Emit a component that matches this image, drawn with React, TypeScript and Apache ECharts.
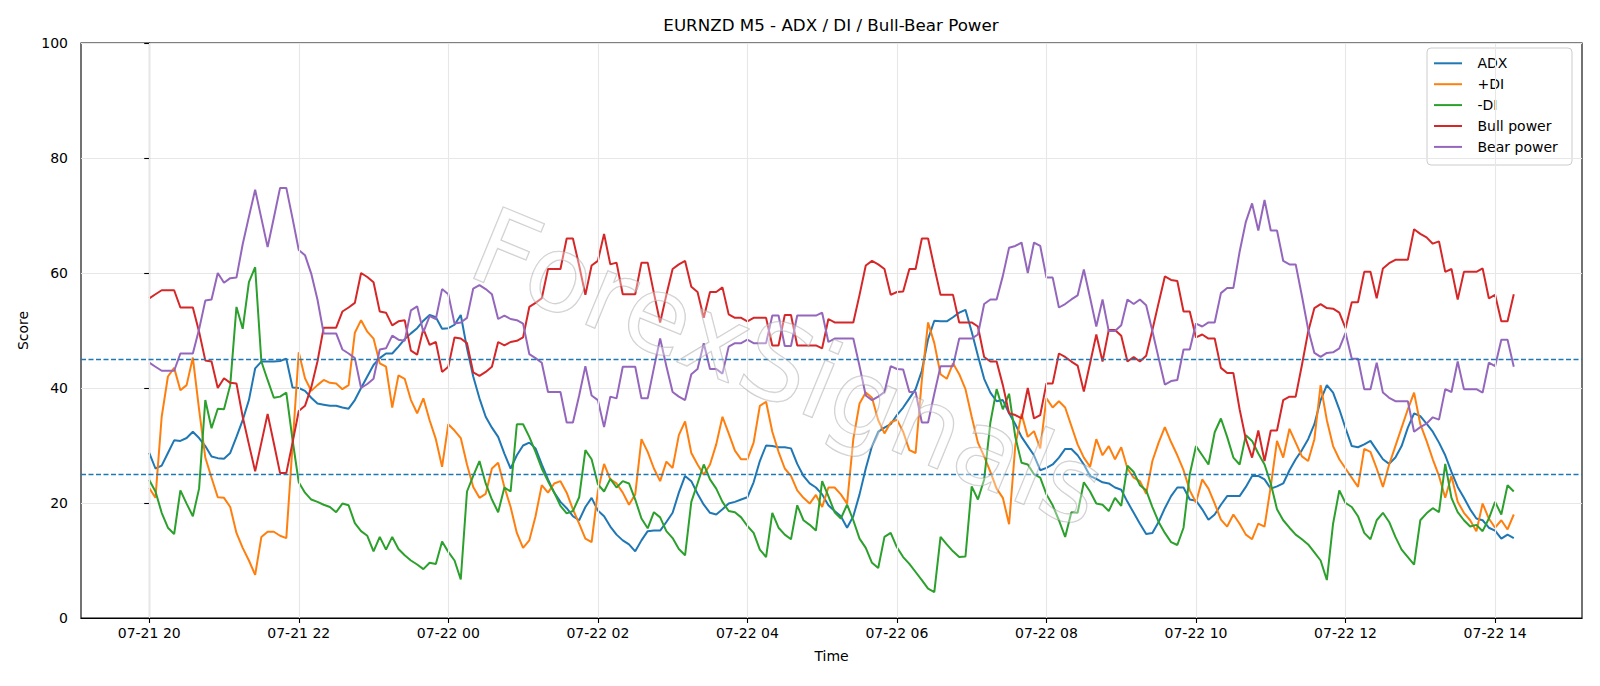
import React, { useEffect, useRef } from "react";
import * as echarts from "echarts";

const TITLE = "EURNZD M5 - ADX / DI / Bull-Bear Power";
const X_NAME = "Time";
const Y_NAME = "Score";
const STEP_MINUTES = 5;
const TICK_MINUTES = [0, 120, 240, 360, 480, 600, 720, 840, 960, 1080];
const TICK_LABELS = ["07-21 20", "07-21 22", "07-22 00", "07-22 02", "07-22 04", "07-22 06", "07-22 08", "07-22 10", "07-22 12", "07-22 14"];
const THRESHOLDS = [45, 25];
const SERIES_NAMES = ["ADX", "+DI", "-DI", "Bull power", "Bear power"];
const COLORS = ["#1f77b4", "#ff7f0e", "#2ca02c", "#d62728", "#9467bd"];
const WATERMARK = "ForexSignals";

const ADX = [
  28.7, 26.0, 26.5, 28.7, 30.9, 30.8, 31.3, 32.4, 31.3, 29.9, 28.1, 27.8, 27.7, 28.7, 31.5, 34.4, 37.9, 43.4, 44.6, 44.6, 44.6, 44.7, 45.1, 40.1, 40.0,
  39.5, 38.3, 37.3, 37.1, 36.9, 36.9, 36.6, 36.4, 37.9, 40.0, 42.0, 44.0, 45.2, 46.0, 46.0, 47.2, 48.5, 49.5, 50.4, 51.7, 52.7, 52.3, 50.3, 50.4,
  51.0, 52.7, 46.9, 42.0, 38.2, 35.0, 33.1, 31.5, 28.6, 26.0, 28.3, 30.0, 30.5, 29.5, 26.7, 24.1, 21.8, 20.2, 19.1, 17.7, 17.0, 19.3, 20.9, 18.7,
  17.7, 15.9, 14.5, 13.5, 12.8, 11.6, 13.5, 15.1, 15.2, 15.2, 16.7, 18.3, 21.8, 24.7, 23.8, 21.6, 19.7, 18.3, 18.0, 18.9, 19.9, 20.2, 20.6, 21.0,
  23.6, 27.3, 30.0, 29.9, 29.7, 29.7, 29.5, 26.8, 24.7, 23.4, 22.7, 21.5, 19.6, 18.6, 17.7, 15.7, 17.7, 21.5, 26.0, 29.9, 32.4, 33.1, 33.7, 35.3,
  36.6, 38.2, 39.8, 43.0, 48.5, 51.7, 51.6, 51.6, 52.3, 53.1, 53.6, 49.8, 45.6, 41.6, 39.2, 37.7, 37.9, 35.6, 33.7, 31.5, 29.9, 28.3, 25.7, 26.1,
  26.7, 27.9, 29.4, 29.4, 28.3, 26.7, 24.7, 24.2, 23.6, 23.4, 22.7, 22.3, 20.2, 18.3, 16.4, 14.6, 14.8, 16.7, 19.1, 21.2, 22.7, 22.7, 20.6, 20.4,
  18.9, 17.1, 18.0, 19.7, 21.2, 21.2, 21.2, 22.8, 24.7, 24.7, 24.1, 22.5, 22.9, 23.4, 25.7, 27.6, 29.2, 31.1, 33.7, 37.9, 40.5, 39.2, 36.3, 33.0,
  29.9, 29.7, 30.2, 30.8, 29.2, 27.6, 26.8, 27.9, 29.9, 33.1, 35.6, 35.1, 33.8, 32.4, 30.5, 28.3, 25.4, 22.8, 20.9, 18.9, 17.3, 17.0, 15.7, 15.2, 13.8, 14.5, 13.9,
];

const PLUS_DI = [
  22.6, 20.9, 35.0, 42.0, 43.5, 39.6, 40.5, 45.3, 36.3, 27.9, 24.4, 21.0, 20.9, 19.3, 14.8, 12.2, 10.0, 7.5, 14.1, 15.0, 15.0, 14.3, 13.9, 30.0, 46.2,
  41.7, 39.5, 40.5, 41.4, 40.9, 40.8, 39.8, 40.5, 49.6, 51.8, 49.8, 48.6, 44.3, 43.7, 36.6, 42.2, 41.6, 37.9, 35.6, 38.2, 34.4, 31.1, 26.3, 33.7,
  32.6, 31.3, 26.7, 22.8, 20.9, 21.6, 26.0, 27.0, 22.8, 19.3, 14.8, 12.2, 13.5, 17.7, 23.1, 21.8, 23.4, 23.8, 21.8, 18.9, 16.4, 13.8, 13.2, 22.0,
  26.8, 24.1, 23.4, 21.8, 19.7, 21.5, 31.1, 28.9, 26.0, 23.8, 27.2, 26.1, 31.8, 34.2, 28.7, 26.7, 24.9, 26.7, 30.2, 35.0, 32.1, 29.1, 27.6, 27.6,
  30.5, 36.9, 37.6, 32.4, 28.9, 26.0, 24.7, 22.2, 20.9, 19.9, 21.4, 19.3, 22.7, 22.7, 21.5, 19.9, 31.1, 37.3, 39.2, 38.3, 34.4, 32.1, 34.0, 34.5,
  32.4, 29.2, 28.7, 41.4, 51.4, 47.8, 42.4, 41.6, 44.3, 42.4, 39.8, 35.0, 30.5, 28.1, 25.4, 22.5, 20.9, 16.3, 30.0, 35.5, 31.5, 32.5, 29.5, 38.2,
  36.6, 37.7, 36.6, 33.4, 30.2, 27.9, 26.3, 31.1, 28.3, 29.9, 27.6, 29.7, 26.0, 24.4, 23.8, 21.6, 27.3, 30.5, 33.2, 30.6, 28.3, 25.7, 22.2, 20.1,
  24.1, 22.5, 19.9, 17.1, 15.9, 18.0, 16.4, 14.5, 13.7, 16.4, 15.9, 22.9, 30.8, 27.9, 32.9, 30.5, 28.1, 27.3, 31.1, 40.5, 34.4, 29.9, 27.6, 26.0,
  24.4, 22.8, 29.4, 28.9, 26.0, 22.8, 26.7, 29.9, 33.1, 36.3, 39.2, 33.7, 30.8, 27.6, 24.7, 20.9, 24.7, 20.2, 18.3, 17.0, 15.1, 19.9, 17.3, 15.7, 17.0, 15.4, 18.0,
];

const MINUS_DI = [
  24.0, 22.0, 18.3, 15.7, 14.6, 22.2, 19.9, 17.7, 22.5, 37.9, 33.0, 36.4, 36.3, 40.5, 54.1, 50.3, 58.4, 61.0, 44.6, 41.4, 38.3, 38.5, 39.2, 31.0, 23.6,
  21.8, 20.6, 20.2, 19.7, 19.3, 18.4, 19.9, 19.6, 16.5, 15.1, 14.3, 11.6, 14.1, 11.9, 14.1, 12.0, 10.9, 10.0, 9.3, 8.5, 9.6, 9.4, 13.3, 11.5,
  10.0, 6.7, 22.0, 24.7, 27.3, 23.4, 20.6, 18.4, 22.7, 22.0, 33.7, 33.7, 31.5, 28.9, 26.0, 23.8, 21.8, 19.5, 18.2, 18.6, 21.0, 29.2, 27.6, 23.3,
  22.0, 24.2, 22.7, 23.8, 23.4, 20.6, 17.3, 15.6, 18.4, 17.5, 15.1, 13.9, 12.0, 10.9, 20.2, 23.4, 26.7, 24.1, 22.5, 20.2, 18.6, 18.4, 17.5, 16.0,
  14.8, 11.9, 10.6, 18.3, 15.7, 14.5, 13.7, 19.6, 17.0, 16.2, 15.2, 23.8, 21.2, 18.4, 17.3, 19.7, 17.0, 13.8, 12.2, 9.6, 8.7, 14.1, 14.8, 12.3,
  10.6, 9.4, 8.0, 6.6, 5.1, 4.5, 14.1, 12.8, 11.6, 10.6, 10.7, 22.9, 20.6, 24.1, 34.0, 39.8, 36.3, 39.0, 31.5, 27.0, 26.7, 25.0, 24.4, 21.5,
  19.6, 17.0, 14.1, 18.4, 18.3, 23.6, 22.0, 19.9, 19.7, 18.6, 20.9, 19.5, 26.5, 25.4, 23.1, 22.2, 19.3, 16.7, 14.8, 13.2, 12.7, 15.7, 25.0, 29.9,
  28.3, 26.7, 32.3, 34.7, 31.5, 27.9, 26.7, 31.8, 30.8, 28.6, 26.7, 23.4, 18.9, 17.0, 15.7, 14.5, 13.7, 12.8, 11.4, 10.0, 6.6, 16.4, 22.2, 20.0,
  19.3, 17.7, 14.8, 13.7, 17.0, 18.3, 16.7, 14.1, 11.9, 10.6, 9.3, 17.0, 18.2, 19.1, 18.4, 26.8, 20.9, 18.4, 17.0, 15.9, 16.2, 15.1, 17.3, 20.2, 18.0, 23.1, 22.0,
];

const BULL = [
  55.6, 56.3, 57.0, 57.0, 57.0, 54.0, 54.0, 54.0, 49.8, 44.8, 44.6, 40.0, 41.7, 40.9, 40.8, 35.0, 30.2, 25.5, 30.5, 35.5, 30.4, 25.2, 25.2, 30.5, 36.0,
  36.9, 40.1, 44.6, 50.5, 50.5, 50.5, 53.3, 54.0, 54.8, 60.0, 59.3, 58.4, 53.3, 53.1, 50.9, 51.6, 51.8, 46.5, 45.8, 50.3, 47.5, 48.0, 42.8, 43.7,
  48.8, 48.6, 47.8, 42.7, 42.1, 42.8, 43.7, 48.0, 47.4, 48.0, 48.2, 48.8, 54.1, 54.8, 55.6, 60.7, 60.7, 60.7, 66.0, 66.0, 61.3, 56.2, 61.3, 62.1,
  66.8, 61.5, 61.8, 56.3, 56.3, 56.3, 61.8, 61.8, 56.5, 51.4, 56.2, 60.7, 61.5, 62.1, 57.6, 56.7, 52.2, 56.7, 56.7, 57.5, 52.8, 52.2, 52.2, 51.6,
  52.2, 52.2, 52.2, 47.4, 47.4, 52.7, 52.7, 47.4, 47.4, 47.4, 47.4, 46.9, 52.0, 51.4, 51.4, 51.4, 51.4, 56.2, 61.3, 62.1, 61.5, 60.7, 56.2, 56.7,
  56.8, 60.7, 60.7, 66.0, 66.0, 61.0, 56.2, 56.2, 56.2, 51.4, 51.4, 51.4, 50.7, 45.4, 44.6, 44.6, 40.5, 35.6, 35.3, 34.7, 40.0, 34.7, 35.3, 40.8,
  40.8, 46.0, 45.4, 44.6, 43.9, 39.4, 44.3, 49.3, 44.6, 50.1, 50.1, 49.1, 44.6, 45.4, 44.6, 45.6, 50.1, 54.8, 59.4, 58.8, 58.6, 53.3, 53.3, 48.8,
  49.3, 48.6, 48.6, 43.5, 42.6, 42.6, 36.3, 31.1, 27.9, 32.6, 27.3, 32.6, 32.6, 37.9, 38.5, 38.5, 44.0, 49.8, 53.9, 54.6, 53.9, 53.8, 53.1, 50.4,
  54.9, 54.9, 60.2, 60.2, 55.6, 60.8, 61.7, 62.3, 62.3, 62.3, 67.6, 66.8, 66.2, 65.1, 65.5, 60.2, 60.7, 55.4, 60.2, 60.2, 60.2, 60.8, 55.6, 56.2, 51.6, 51.6, 56.3,
];

const BEAR = [
  44.4, 43.7, 43.0, 43.0, 43.0, 46.0, 46.0, 46.0, 50.2, 55.2, 55.4, 60.0, 58.3, 59.1, 59.2, 65.0, 69.8, 74.5, 69.5, 64.5, 69.6, 74.8, 74.8, 69.5, 64.0,
  63.1, 59.9, 55.4, 49.5, 49.5, 49.5, 46.7, 46.0, 45.2, 40.0, 40.7, 41.6, 46.7, 46.9, 49.1, 48.4, 48.2, 53.5, 54.2, 49.7, 52.5, 52.0, 57.2, 56.3,
  51.2, 51.4, 52.2, 57.3, 57.9, 57.2, 56.3, 52.0, 52.6, 52.0, 51.8, 51.2, 45.9, 45.2, 44.4, 39.3, 39.3, 39.3, 34.0, 34.0, 38.7, 43.8, 38.7, 37.9,
  33.2, 38.5, 38.2, 43.7, 43.7, 43.7, 38.2, 38.2, 43.5, 48.6, 43.8, 39.3, 38.5, 37.9, 42.4, 43.3, 47.8, 43.3, 43.3, 42.5, 47.2, 47.8, 47.8, 48.4,
  47.8, 47.8, 47.8, 52.6, 52.6, 47.3, 47.3, 52.6, 52.6, 52.6, 52.6, 53.1, 48.0, 48.6, 48.6, 48.6, 48.6, 43.8, 38.7, 37.9, 38.5, 39.3, 43.8, 43.3,
  43.2, 39.3, 39.3, 34.0, 34.0, 39.0, 43.8, 43.8, 43.8, 48.6, 48.6, 48.6, 49.3, 54.6, 55.4, 55.4, 59.5, 64.4, 64.7, 65.3, 60.0, 65.3, 64.7, 59.2,
  59.2, 54.0, 54.6, 55.4, 56.1, 60.6, 55.7, 50.7, 55.4, 49.9, 49.9, 50.9, 55.4, 54.6, 55.4, 54.4, 49.9, 45.2, 40.6, 41.2, 41.4, 46.7, 46.7, 51.2,
  50.7, 51.4, 51.4, 56.5, 57.4, 57.4, 63.7, 68.9, 72.1, 67.4, 72.7, 67.4, 67.4, 62.1, 61.5, 61.5, 56.0, 50.2, 46.1, 45.4, 46.1, 46.2, 46.9, 49.6,
  45.1, 45.1, 39.8, 39.8, 44.4, 39.2, 38.3, 37.7, 37.7, 37.7, 32.4, 33.2, 33.8, 34.9, 34.5, 39.8, 39.3, 44.6, 39.8, 39.8, 39.8, 39.2, 44.4, 43.8, 48.4, 48.4, 43.7,
];

const FONT = '"DejaVu Sans", "Liberation Sans", sans-serif';

function toPairs(values: number[]) {
  return values.map((v, i) => [i * STEP_MINUTES, v]);
}

// Legend drawn as graphic elements (frame, line samples, labels)
function buildLegend() {
  const boxX = 1427;
  const boxY = 48;
  const rowY0 = 63.3;
  const rowStep = 20.9;
  const children: any[] = [
    {
      type: "rect",
      shape: { x: boxX, y: boxY, width: 145, height: 117, r: 4 },
      style: { fill: "rgba(255,255,255,0.8)", stroke: "#cccccc", lineWidth: 1 },
    },
  ];
  SERIES_NAMES.forEach((name, k) => {
    const y = rowY0 + rowStep * k;
    children.push({
      type: "line",
      shape: { x1: 1434, y1: y, x2: 1462, y2: y },
      style: { stroke: COLORS[k], lineWidth: 2 },
    });
    children.push({
      type: "text",
      x: 1477.5,
      y,
      style: {
        text: name,
        fontSize: 14,
        fontFamily: FONT,
        fill: "#000",
        align: "left",
        verticalAlign: "middle",
        textAlign: "left",
        textVerticalAlign: "middle",
      },
    });
  });
  return { type: "group", z: 110, silent: true, children };
}

export default function App() {
  const ref = useRef<HTMLDivElement | null>(null);

  useEffect(() => {
    document.body.style.margin = "0";
    if (!ref.current) return;
    const chart = echarts.init(ref.current, undefined, { renderer: "svg" });
    const allValues = [ADX, PLUS_DI, MINUS_DI, BULL, BEAR];
    const lastMinute = (ADX.length - 1) * STEP_MINUTES;
    const pad = lastMinute * 0.05;

    const lineSeries = SERIES_NAMES.map((name, k) => ({
      type: "line",
      name,
      data: toPairs(allValues[k]),
      showSymbol: false,
      symbol: "none",
      color: COLORS[k],
      lineStyle: { color: COLORS[k], width: 2 },
      z: 3,
    }));

    const option = {
      animation: false,
      textStyle: { fontFamily: FONT },
      grid: {
        left: 81,
        right: 18,
        top: 43,
        bottom: 68,
        show: true,
        borderColor: "#000",
        borderWidth: 1.1,
        backgroundColor: "transparent",
      },
      xAxis: {
        type: "value",
        min: -pad,
        max: lastMinute + pad,
        name: X_NAME,
        nameLocation: "middle",
        nameGap: 31,
        nameTextStyle: { fontSize: 14, color: "#000", fontFamily: FONT },
        axisLine: { show: true, onZero: false, lineStyle: { color: "#000", width: 1.1 } },
        axisTick: { show: true, customValues: TICK_MINUTES, length: 5, lineStyle: { color: "#000", width: 1.1 } },
        axisLabel: {
          customValues: TICK_MINUTES,
          formatter: (v: number) => {
            const i = TICK_MINUTES.indexOf(Math.round(v));
            return i >= 0 ? TICK_LABELS[i] : "";
          },
          fontSize: 14,
          color: "#000",
          margin: 8,
          fontFamily: FONT,
        },
        splitLine: { show: false },
      },
      yAxis: {
        type: "value",
        min: 0,
        max: 100,
        interval: 20,
        name: Y_NAME,
        nameLocation: "middle",
        nameGap: 49,
        nameTextStyle: { fontSize: 14, color: "#000", fontFamily: FONT },
        axisLine: { show: true, lineStyle: { color: "#000", width: 1.1 } },
        axisTick: { show: true, length: 5, lineStyle: { color: "#000", width: 1.1 } },
        axisLabel: { fontSize: 14, color: "#000", margin: 13, fontFamily: FONT },
        splitLine: { show: true, lineStyle: { color: "#e7e7e7", width: 1.1 } },
      },
      series: [
        {
          type: "line",
          name: "vgrid",
          data: [],
          z: 1,
          silent: true,
          markLine: {
            silent: true,
            symbol: ["none", "none"],
            label: { show: false },
            lineStyle: { color: "#e7e7e7", width: 1.1, type: "solid" },
            data: TICK_MINUTES.map((m) => ({ xAxis: m })),
          },
        },
        ...lineSeries,
        {
          type: "line",
          name: "thresholds",
          data: [],
          z: 4,
          silent: true,
          markLine: {
            silent: true,
            symbol: ["none", "none"],
            label: { show: false },
            lineStyle: { color: "#1f77b4", width: 1.3, type: [5, 2.5] },
            data: THRESHOLDS.map((t) => ({ yAxis: t })),
          },
        },
      ],
      graphic: [
        {
          type: "text",
          x: 831,
          y: 25,
          style: {
            text: TITLE,
            fontSize: 16.7,
            fontFamily: FONT,
            fill: "#000",
            align: "center",
            verticalAlign: "middle",
            textAlign: "center",
            textVerticalAlign: "middle",
          },
        },
        {
          type: "text",
          x: 788,
          y: 368,
          rotation: -0.39,
          z: 100,
          silent: true,
          style: {
            text: WATERMARK,
            fontSize: 106,
            fontFamily: FONT,
            fill: "rgba(255,255,255,0.35)",
            stroke: "rgba(150,150,150,0.5)",
            lineWidth: 1.3,
            align: "center",
            verticalAlign: "middle",
            textAlign: "center",
            textVerticalAlign: "middle",
          },
        },
        buildLegend(),
      ],
    };

    chart.setOption(option as any);
    return () => {
      chart.dispose();
    };
  }, []);

  return <div ref={ref} style={{ width: 1600, height: 686 }} />;
}
